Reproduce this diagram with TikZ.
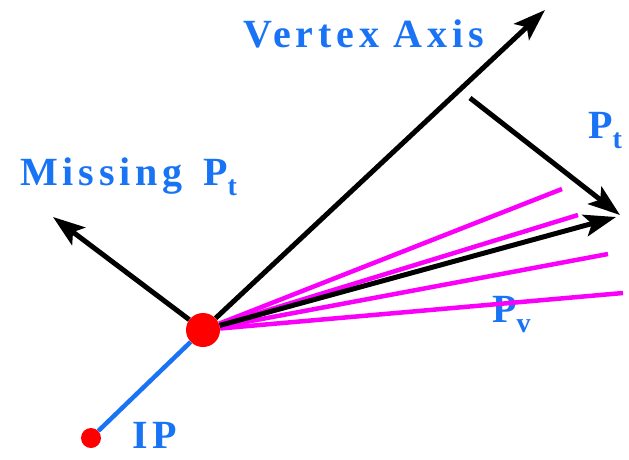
\documentclass[tikz,border=0pt]{standalone}
\usepackage{fontspec}
\setmainfont{Liberation Serif}
\usepackage{tikz}
\usetikzlibrary{arrows.meta}
\definecolor{lblblue}{RGB}{25,115,245}
\definecolor{trkpink}{RGB}{250,0,250}
\newcommand\lowsub[1]{\raisebox{-10pt}{\fontsize{28}{28}\selectfont #1}}

\begin{document}
\begin{tikzpicture}[x=1pt, y=-1pt,
    vec/.style={line width=5pt, -{Stealth[length=32pt,width=22pt,inset=7pt]}},
    trk/.style={trkpink, line width=4.5pt},
    dot/.style={circle, fill=red, inner sep=0pt},
    lbl/.style={text=lblblue, inner sep=0pt, anchor=base west,
      font=\fontsize{40}{44}\selectfont\bfseries\addfontfeature{LetterSpace=12}}]
  \useasboundingbox (0,0) rectangle (629,459);
  % labels
  \node[lbl] (axislbl) at (243,47) {Vertex Axis};
  \node[lbl] (misslbl) at (20,185) {Missing\hspace{6pt} P\lowsub{t}};
  \node[lbl] (ptlbl) at (588,138) {P\lowsub{t}};
  \node[lbl] (pvlbl) at (492,322) {P\lowsub{v}};
  \node[lbl] (iplbl) at (132,448) {IP};
  % vertex and interaction point
  \node[dot, minimum size=34pt] (vtx) at (203,330) {};
  \node[dot, minimum size=20pt] (ip) at (91,438) {};
  \coordinate (axistip) at (545,10);
  \coordinate (misstip) at (53,217);
  \coordinate (ptfrom) at (470,98);
  \coordinate (pttip) at (620,215);
  \coordinate (pvtip) at (616,217);
  \coordinate (t1) at (562,189);
  \coordinate (t2) at (578,215);
  \coordinate (t3) at (608,254);
  \coordinate (t4) at (623,293);
  \draw[lblblue, line width=4.5pt] (ip) -- (vtx);
  \foreach \t in {t1,t2,t3,t4}
    \draw[trk] (vtx) -- (\t);
  \draw[vec] (vtx) -- (axistip);
  \draw[vec] (vtx) -- (misstip);
  \draw[vec] (ptfrom) -- (pttip);
  \draw[vec] (vtx) -- (pvtip);
\end{tikzpicture}
\end{document}
